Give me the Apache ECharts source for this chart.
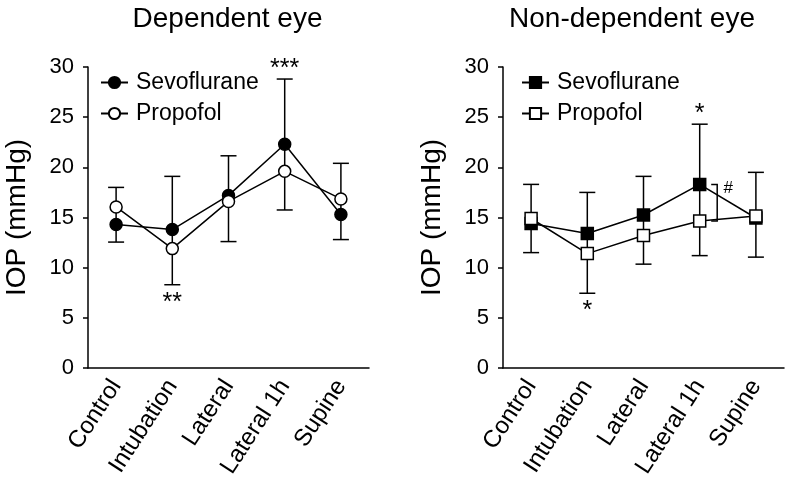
<!DOCTYPE html>
<html><head><meta charset="utf-8">
<script src="https://cdn.jsdelivr.net/npm/echarts@6/dist/echarts.min.js"></script>
<style>html,body{margin:0;padding:0;background:#fff}#c{width:786px;height:486px}</style>
</head><body><div id="c"></div>
<script>
const categories = ['Control', 'Intubation', 'Lateral', 'Lateral 1h', 'Supine'];
const titles = ['Dependent eye', 'Non-dependent eye'];
const seriesNames = ['Sevoflurane', 'Propofol'];
// Dependent eye
const depSevo = [14.3, 13.8, 17.2, 22.3, 15.3];
const depProp = [16.05, 11.9, 16.6, 19.6, 16.85];
const depSevoSD = [1.75, 5.3, 3.95, 6.5, 2.5];
const depPropSD = [1.95, 3.6, 4.0, 3.85, 3.55];
const depMarksAbove = ['', '', '', '***', ''];
const depMarksBelow = ['', '**', '', '', ''];
// Non-dependent eye
const ndSevo = [14.4, 13.4, 15.25, 18.3, 14.95];
const ndProp = [14.9, 11.4, 13.2, 14.65, 15.15];
const ndSevoSD = [2.9, 4.1, 3.85, 6.0, 3.9];
const ndPropSD = [3.4, 3.95, 2.85, 3.45, 4.35];
const ndMarksAbove = ['', '', '', '*', ''];
const ndMarksBelow = ['', '*', '', '', ''];
const ndHash = ['', '', '', '#', ''];

const FONT = 'Liberation Sans, Arial, sans-serif';
const chart = echarts.init(document.getElementById('c'), null, {renderer: 'canvas'});

function errInfo(sevo, prop, sevoSD, propSD) {
  return categories.map((c, i) => {
    const sUp = sevo[i] >= prop[i];
    const top = sUp ? sevo[i] + sevoSD[i] : prop[i] + propSD[i];
    const bot = sUp ? prop[i] - propSD[i] : sevo[i] - sevoSD[i];
    return [i, bot, top];
  });
}

function errorSeries(gi, info) {
  return {
    type: 'custom', xAxisIndex: gi, yAxisIndex: gi, z: 1, silent: true,
    encode: {x: 0, y: [1, 2]}, data: info,
    renderItem(params, api) {
      const x = api.value(0);
      const lo = api.coord([x, api.value(1)]);
      const hi = api.coord([x, api.value(2)]);
      const w = 8;
      const style = {stroke: '#000', lineWidth: 1.5, fill: null};
      return {type: 'group', children: [
        {type: 'line', shape: {x1: lo[0], y1: lo[1], x2: hi[0], y2: hi[1]}, style},
        {type: 'line', shape: {x1: lo[0] - w, y1: lo[1], x2: lo[0] + w, y2: lo[1]}, style},
        {type: 'line', shape: {x1: hi[0] - w, y1: hi[1], x2: hi[0] + w, y2: hi[1]}, style}
      ]};
    }
  };
}

function markSeries(gi, info, above, below) {
  const data = [];
  info.forEach((d, i) => {
    if (above[i]) data.push([i, d[2], above[i], -1]);
    if (below[i]) data.push([i, d[1], below[i], 1]);
  });
  return {
    type: 'custom', xAxisIndex: gi, yAxisIndex: gi, z: 5, silent: true,
    encode: {x: 0, y: 1}, data,
    renderItem(params, api) {
      const p = api.coord([api.value(0), api.value(1)]);
      const dir = api.value(3);
      const txt = data[params.dataIndex][2];
      return {type: 'text', x: p[0], y: p[1] + (dir < 0 ? -10 : 18),
        style: {text: txt, font: '25px ' + FONT, fill: '#000', align: 'center', verticalAlign: 'middle'}};
    }
  };
}

function hashSeries(gi, sevo, prop, hash) {
  const data = [];
  hash.forEach((h, i) => { if (h) data.push([i, sevo[i], prop[i], h]); });
  return {
    type: 'custom', xAxisIndex: gi, yAxisIndex: gi, z: 5, silent: true,
    encode: {x: 0, y: [1, 2]}, data,
    renderItem(params, api) {
      const a = api.coord([api.value(0), api.value(1)]);
      const b = api.coord([api.value(0), api.value(2)]);
      const bx = a[0] + 17.5;
      const style = {stroke: '#000', lineWidth: 1.5, fill: null};
      return {type: 'group', children: [
        {type: 'polyline', shape: {points: [[bx - 6, a[1]], [bx, a[1]], [bx, b[1]], [bx - 6, b[1]]]}, style},
        {type: 'text', x: bx + 11, y: a[1] + 4,
          style: {text: data[params.dataIndex][3], font: '17px ' + FONT, fill: '#000', align: 'center', verticalAlign: 'middle'}}
      ]};
    }
  };
}

function lineSeries(gi, name, vals, symbol, filled) {
  return {
    type: 'line', name, xAxisIndex: gi, yAxisIndex: gi, z: 3, data: vals,
    symbol, symbolSize: 12, showAllSymbol: true, silent: true, animation: false,
    lineStyle: {color: '#000', width: 1.5},
    itemStyle: {color: filled ? '#000' : '#fff', borderColor: '#000', borderWidth: 1.5}
  };
}

const depInfo = errInfo(depSevo, depProp, depSevoSD, depPropSD);
const ndInfo = errInfo(ndSevo, ndProp, ndSevoSD, ndPropSD);

const gridLefts = [88, 503];
const titleCenters = [222.5, 627];

const option = {
  animation: false,
  backgroundColor: '#fff',
  textStyle: {fontFamily: FONT},
  title: titles.map((t, i) => ({
    text: t, left: titleCenters[i], textAlign: 'center', top: 0,
    textStyle: {fontSize: 28, fontWeight: 'normal', color: '#000', fontFamily: FONT}
  })),
  legend: [0, 1].map(gi => ({
    orient: 'vertical', left: gridLefts[gi] + 7 + (gi ? 6 : 0), top: 66,
    itemWidth: 27, itemHeight: 14, itemGap: 8, selectedMode: false,
    data: seriesNames.map(n => n + (gi ? ' ' : '')),
    formatter: n => n.trim(),
    textStyle: {fontSize: 23, color: '#000', fontFamily: FONT, padding: [0, 0, 0, 3]}
  })),
  grid: gridLefts.map(l => ({left: l, top: 67, width: 281, height: 301, outerBoundsMode: 'none', containLabel: false})),
  xAxis: [0, 1].map(gi => ({
    type: 'category', gridIndex: gi, data: categories, boundaryGap: true,
    axisLine: {lineStyle: {color: '#000', width: 1.5}},
    axisTick: {alignWithLabel: true, length: 6, lineStyle: {color: '#000', width: 1.5}},
    axisLabel: {rotate: 57, interval: 0, fontSize: 24, color: '#000', margin: 14, fontFamily: FONT},
    splitLine: {show: false}
  })),
  yAxis: [0, 1].map(gi => ({
    type: 'value', gridIndex: gi, min: 0, max: 30, interval: 5,
    name: 'IOP (mmHg)', nameLocation: 'middle', nameGap: 57,
    nameTextStyle: {fontSize: 28, color: '#000', fontFamily: FONT},
    axisLine: {show: true, lineStyle: {color: '#000', width: 1.5}},
    axisTick: {show: true, length: 5, lineStyle: {color: '#000', width: 1.5}},
    axisLabel: {fontSize: 22, color: '#000', margin: 14, fontFamily: FONT},
    splitLine: {show: false}
  })),
  series: [
    errorSeries(0, depInfo),
    lineSeries(0, 'Sevoflurane', depSevo, 'circle', true),
    lineSeries(0, 'Propofol', depProp, 'circle', false),
    markSeries(0, depInfo, depMarksAbove, depMarksBelow),
    errorSeries(1, ndInfo),
    lineSeries(1, 'Sevoflurane ', ndSevo, 'rect', true),
    lineSeries(1, 'Propofol ', ndProp, 'rect', false),
    markSeries(1, ndInfo, ndMarksAbove, ndMarksBelow),
    hashSeries(1, ndSevo, ndProp, ndHash)
  ]
};
chart.setOption(option);
</script></body></html>
